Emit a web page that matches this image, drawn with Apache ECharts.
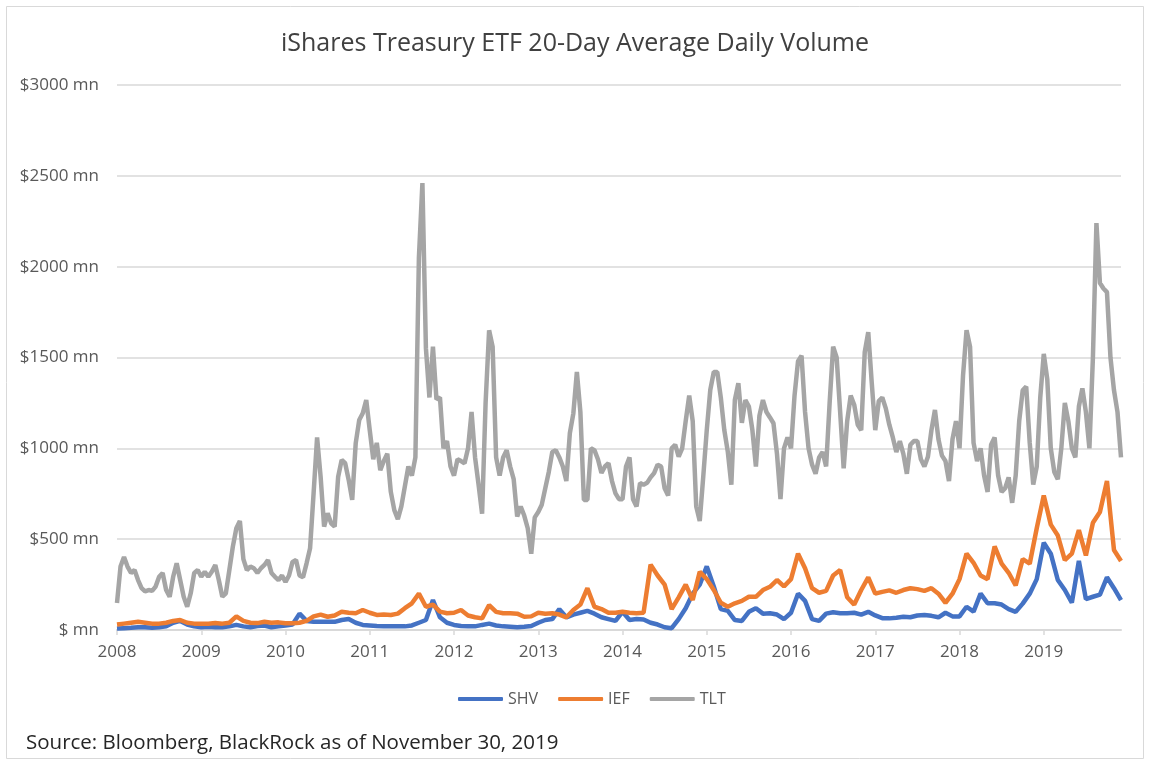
<!DOCTYPE html>
<html>
<head>
<meta charset="utf-8">
<title>iShares Treasury ETF 20-Day Average Daily Volume</title>
<script src="https://cdn.jsdelivr.net/npm/echarts@6/dist/echarts.min.js"></script>
<style>
  html, body { margin: 0; padding: 0; background: #fff; }
  #chart { width: 1150px; height: 765px; }
</style>
</head>
<body>
<div id="chart"></div>
<script>
// $ mn
var yearTicks = [2008, 2009, 2010, 2011, 2012, 2013, 2014, 2015, 2016, 2017, 2018, 2019];
var seriesNames = ['SHV', 'IEF', 'TLT'];

// monthly points, first one = Jan 2008
var shv = [
  8, 10, 12, 15, 15, 12, 15, 20, 40, 50, 30, 20,
  15, 18, 15, 15, 20, 28, 20, 15, 22, 25, 15, 20,
  25, 30, 90, 50, 45, 45, 45, 45, 55, 60, 40, 28,
  25, 22, 20, 20, 20, 20, 25, 40, 55, 165, 70, 40,
  28, 22, 20, 20, 28, 35, 25, 20, 18, 15, 18, 22,
  40, 55, 60, 115, 70, 85, 95, 105, 90, 70, 60, 50,
  100, 55, 60, 58, 40, 30, 15, 10, 60, 120, 200, 250,
  350, 240, 115, 105, 55, 50, 100, 120, 90, 92, 85, 60,
  95, 200, 160, 60, 50, 90, 98, 92, 92, 95, 85, 100,
  80, 65, 64, 68, 73, 70, 80, 83, 78, 70, 95, 75,
  75, 128, 101, 200, 147, 147, 140, 115, 100, 145, 200, 280,
  480, 420, 275, 220, 150, 380, 170, 183, 195, 290, 230, 165
];
var ief = [
  30, 35, 40, 45, 40, 35, 35, 40, 50, 55, 40, 35,
  35, 35, 38, 35, 40, 75, 50, 40, 38, 45, 40, 42,
  37, 37, 40, 50, 75, 85, 73, 80, 100, 95, 92, 110,
  95, 83, 85, 83, 90, 120, 147, 200, 128, 140, 101, 92,
  95, 110, 80, 70, 64, 137, 100, 92, 92, 90, 73, 75,
  95, 90, 92, 85, 70, 110, 140, 230, 128, 115, 95, 95,
  101, 95, 92, 95, 360, 300, 250, 115, 180, 250, 165, 320,
  280, 220, 150, 128, 147, 160, 183, 183, 220, 238, 275, 240,
  280, 420, 340, 230, 205, 215, 300, 330, 180, 140, 220, 290,
  200, 210, 218, 205, 220, 230, 225, 215, 230, 200, 150, 200,
  280, 420, 370, 300, 280, 460, 365, 315, 245, 390, 365, 560,
  740, 580, 520, 385, 420, 550, 410, 590, 650, 820, 440, 380
];
// half-monthly points, first one = Jan 2008
var tlt = [
  149, 349, 402, 349, 314, 330, 275, 231, 213, 220, 215, 239, 293, 314, 220, 183, 293, 367, 275, 183, 128, 202, 314, 330,
  293, 321, 293, 321, 358, 275, 183, 202, 330, 459, 560, 600, 390, 330, 349, 340, 314, 340, 358, 385, 314, 293, 275, 300,
  264, 300, 375, 385, 300, 290, 367, 450, 752, 1060, 844, 569, 642, 587, 569, 844, 936, 918, 826, 716, 1028, 1156, 1193, 1266,
  1100, 940, 1030, 880, 930, 970, 760, 660, 610, 680, 790, 900, 850, 950, 2050, 2460, 1550, 1280, 1560, 1270, 1280, 1000, 1040, 900,
  850, 940, 930, 918, 1000, 1200, 950, 800, 640, 1250, 1650, 1560, 950, 850, 950, 990, 900, 830, 624, 680, 630, 560, 420, 620,
  650, 690, 780, 870, 980, 990, 950, 900, 820, 1084, 1193, 1420, 1200, 716, 716, 1000, 990, 940, 864, 900, 918, 820, 752, 720,
  720, 900, 950, 720, 680, 809, 800, 810, 840, 864, 910, 900, 780, 740, 1000, 1020, 954, 1000, 1150, 1290, 1150, 680, 600, 844,
  1100, 1321, 1420, 1420, 1280, 1100, 980, 800, 1266, 1358, 1140, 1266, 1230, 1100, 900, 1180, 1266, 1200, 1170, 1138, 970, 720, 1000, 1060,
  1000, 1290, 1480, 1510, 1200, 1000, 910, 860, 950, 980, 900, 1250, 1560, 1500, 1200, 890, 1150, 1290, 1240, 1130, 1100, 1530, 1640, 1360,
  1100, 1260, 1280, 1220, 1130, 1060, 980, 1040, 970, 860, 1020, 1040, 1040, 940, 900, 954, 1100, 1211, 1050, 960, 930, 820, 1050, 1150,
  1000, 1400, 1650, 1560, 1030, 930, 1000, 850, 760, 1020, 1060, 850, 760, 780, 840, 700, 850, 1150, 1320, 1340, 1030, 800, 900, 1280,
  1520, 1380, 1000, 870, 830, 1000, 1250, 1150, 1000, 950, 1230, 1330, 1200, 1000, 1500, 2240, 1910, 1880, 1860, 1500, 1320, 1200, 950
];

function toPoints(values, perYear) {
  return values.map(function (v, i) {
    return [yearTicks[0] + i / perYear, v];
  });
}

var dom = document.getElementById('chart');
var myChart = echarts.init(dom);
var font = '"Open Sans", "Noto Sans", sans-serif';

var option = {
  animation: false,
  backgroundColor: '#fff',
  textStyle: { fontFamily: font },
  title: {
    text: 'iShares Treasury ETF 20-Day Average Daily Volume',
    left: 'center',
    top: 26,
    textStyle: { fontFamily: font, fontSize: 25, fontWeight: 'normal', color: '#404040' }
  },
  grid: { left: 117, right: 29, top: 85, bottom: 135 },
  legend: {
    data: seriesNames,
    left: 453,
    top: 686,
    icon: 'roundRect',
    itemWidth: 45,
    itemHeight: 4,
    itemGap: 20,
    textStyle: { fontFamily: font, fontSize: 16, color: '#595959' }
  },
  xAxis: {
    type: 'value',
    min: 2008,
    max: 2008 + 286 / 24,
    axisLine: { lineStyle: { color: '#d9d9d9', width: 2 } },
    axisTick: { show: true, length: 5, customValues: yearTicks, lineStyle: { color: '#d9d9d9', width: 1.5 } },
    axisLabel: {
      customValues: yearTicks,
      margin: 14,
      fontSize: 17,
      color: '#595959',
      fontFamily: font,
      formatter: function (v) { return String(v); }
    },
    splitLine: { show: false }
  },
  yAxis: {
    type: 'value',
    min: 0,
    max: 3000,
    interval: 500,
    axisLine: { show: false },
    axisTick: { show: false },
    axisLabel: {
      margin: 18,
      fontSize: 17,
      color: '#595959',
      fontFamily: font,
      formatter: function (v) { return v === 0 ? '$ mn' : '$' + v + ' mn'; }
    },
    splitLine: { lineStyle: { color: '#d9d9d9', width: 1.5 } }
  },
  series: [
    {
      name: 'SHV', type: 'line', symbol: 'none',
      data: toPoints(shv, 12),
      lineStyle: { color: '#4472c4', width: 4.5 },
      itemStyle: { color: '#4472c4' }
    },
    {
      name: 'IEF', type: 'line', symbol: 'none',
      data: toPoints(ief, 12),
      lineStyle: { color: '#ed7d31', width: 4.5 },
      itemStyle: { color: '#ed7d31' }
    },
    {
      name: 'TLT', type: 'line', symbol: 'none',
      data: toPoints(tlt, 24),
      lineStyle: { color: '#a5a5a5', width: 4.5 },
      itemStyle: { color: '#a5a5a5' }
    }
  ],
  graphic: [
    {
      type: 'rect',
      shape: { x: 6.5, y: 6.5, width: 1137, height: 752 },
      style: { fill: 'none', stroke: '#d9d9d9', lineWidth: 1 },
      silent: true
    },
    {
      type: 'text',
      left: 26,
      top: 733,
      style: {
        text: 'Source: Bloomberg, BlackRock as of November 30, 2019',
        font: '20.5px ' + font,
        fill: '#262626'
      }
    }
  ]
};

if (option && typeof option === 'object') {
  myChart.setOption(option, true);
}
</script>
</body>
</html>
